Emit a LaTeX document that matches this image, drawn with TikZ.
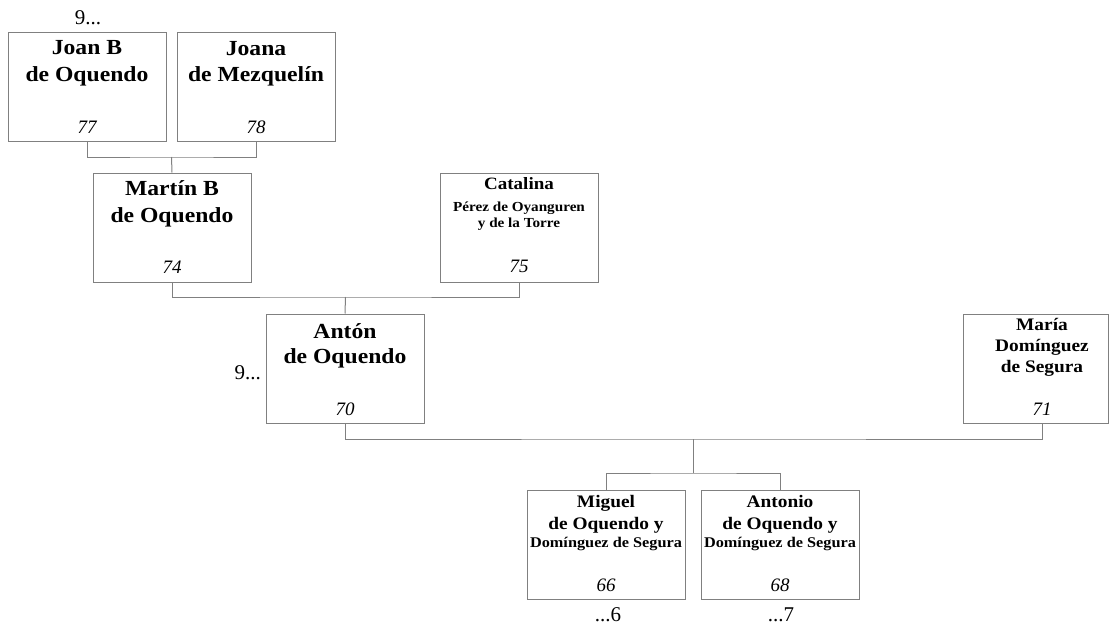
\documentclass[tikz,border=0pt]{standalone}
\usepackage{fontspec}
\setmainfont{Liberation Serif}
\newfontfamily\nmfont[FakeStretch=1.1]{Liberation Serif}
\tikzset{
  person/.style={draw=gray, line width=1pt, minimum width=158pt, minimum height=109pt, inner sep=0pt},
  conn/.style={draw=gray, line width=1pt},
  txt/.style={anchor=base, inner sep=0pt, text=black},
  big/.style={txt, font=\nmfont\bfseries\fontsize{21.5}{21.5}\selectfont},
  mid/.style={txt, font=\nmfont\bfseries\fontsize{17.6}{17.6}\selectfont},
  sml/.style={txt, font=\nmfont\bfseries\fontsize{#1}{#1}\selectfont},
  num/.style={txt, font=\itshape\fontsize{19}{19}\selectfont},
  gen/.style={txt, font=\fontsize{21}{21}\selectfont}
}
\begin{document}
\begin{tikzpicture}[x=1pt,y=-1pt]
\useasboundingbox (0,0) rectangle (1110,624);
% boxes
\node[person] (joan) at (87,86.5) {};
\node[person] (joana) at (256,86.5) {};
\node[person] (martin) at (172,227.5) {};
\node[person] (catalina) at (519,227.5) {};
\node[person] (anton) at (345,368.5) {};
\node[person, minimum width=145.5pt] (maria) at (1035.75,368.5) {};
\node[person] (miguel) at (606,544.5) {};
\node[person] (antonio) at (780,544.5) {};
% Joan
\node[big] (joan1) at ([yshift=-23pt]joan.north) {Joan B};
\node[big] (joan2) at ([yshift=-50pt]joan.north) {de Oquendo};
\node[num] (joan3) at ([yshift=8pt]joan.south) {77};
% Joana
\node[big] (joana1) at ([yshift=-24pt]joana.north) {Joana};
\node[big] (joana2) at ([yshift=-50pt]joana.north) {de Mezquelín};
\node[num] (joana3) at ([yshift=8.5pt]joana.south) {78};
% Martin
\node[big] (martin1) at ([yshift=-23pt]martin.north) {Martín B};
\node[big] (martin2) at ([yshift=-50pt]martin.north) {de Oquendo};
\node[num] (martin3) at ([yshift=9pt]martin.south) {74};
% Catalina
\node[sml=17.3] (cat1) at ([yshift=-17pt]catalina.north) {Catalina};
\node[sml=13.8] (cat2) at ([yshift=-39pt]catalina.north) {Pérez de Oyanguren};
\node[sml=13.8] (cat3) at ([yshift=-55pt]catalina.north) {y de la Torre};
\node[num] (cat4) at ([yshift=10pt]catalina.south) {75};
% Anton
\node[big] (anton1) at ([yshift=-25pt]anton.north) {Antón};
\node[big] (anton2) at ([yshift=-50pt]anton.north) {de Oquendo};
\node[num] (anton3) at ([yshift=8pt]anton.south) {70};
% Maria
\coordinate (mariaC) at ([xshift=6.25pt]maria.north);
\coordinate (mariaB) at ([xshift=6.25pt]maria.south);
\node[mid] (maria1) at ([yshift=-17pt]mariaC) {María};
\node[mid] (maria2) at ([yshift=-38pt]mariaC) {Domínguez};
\node[mid] (maria3) at ([yshift=-59pt]mariaC) {de Segura};
\node[num] (maria4) at ([yshift=8pt]mariaB) {71};
% Miguel
\node[mid] (miguel1) at ([yshift=-18pt]miguel.north) {Miguel};
\node[mid] (miguel2) at ([yshift=-40pt]miguel.north) {de Oquendo y};
\node[sml=14.8] (miguel3) at ([yshift=-58pt]miguel.north) {Domínguez de Segura};
\node[num] (miguel4) at ([yshift=8pt]miguel.south) {66};
% Antonio
\node[mid] (antonio1) at ([yshift=-18pt]antonio.north) {Antonio};
\node[mid] (antonio2) at ([yshift=-40pt]antonio.north) {de Oquendo y};
\node[sml=14.8] (antonio3) at ([yshift=-58pt]antonio.north) {Domínguez de Segura};
\node[num] (antonio4) at ([yshift=8pt]antonio.south) {68};
% generation marks
\node[gen] (g1) at ([yshift=7pt,xshift=1pt]joan.north) {9...};
\node[gen, anchor=base east] (g2) at (261,379) {9...};
\node[gen] (g3) at ([yshift=-21.5pt,xshift=2pt]miguel.south) {...6};
\node[gen] (g4) at ([yshift=-21.5pt,xshift=1pt]antonio.south) {...7};
% connectors
\coordinate (c1) at (171.5,157);
\coordinate (c2) at (345.5,297);
\coordinate (c3) at (693.5,439);
\coordinate (c4) at (693.5,473);
\draw[conn] (joan.south) |- (c1) -| (joana.south);
\draw[conn] (c1) -- (martin.north);
\draw[conn] (martin.south) |- (c2) -| (catalina.south);
\draw[conn] (c2) -- (anton.north);
\draw[conn] (anton.south) |- (c3) -| (mariaB);
\draw[conn] (c3) -- (c4);
\draw[conn] (miguel.north) |- (c4) -| (antonio.north);
\end{tikzpicture}
\end{document}
